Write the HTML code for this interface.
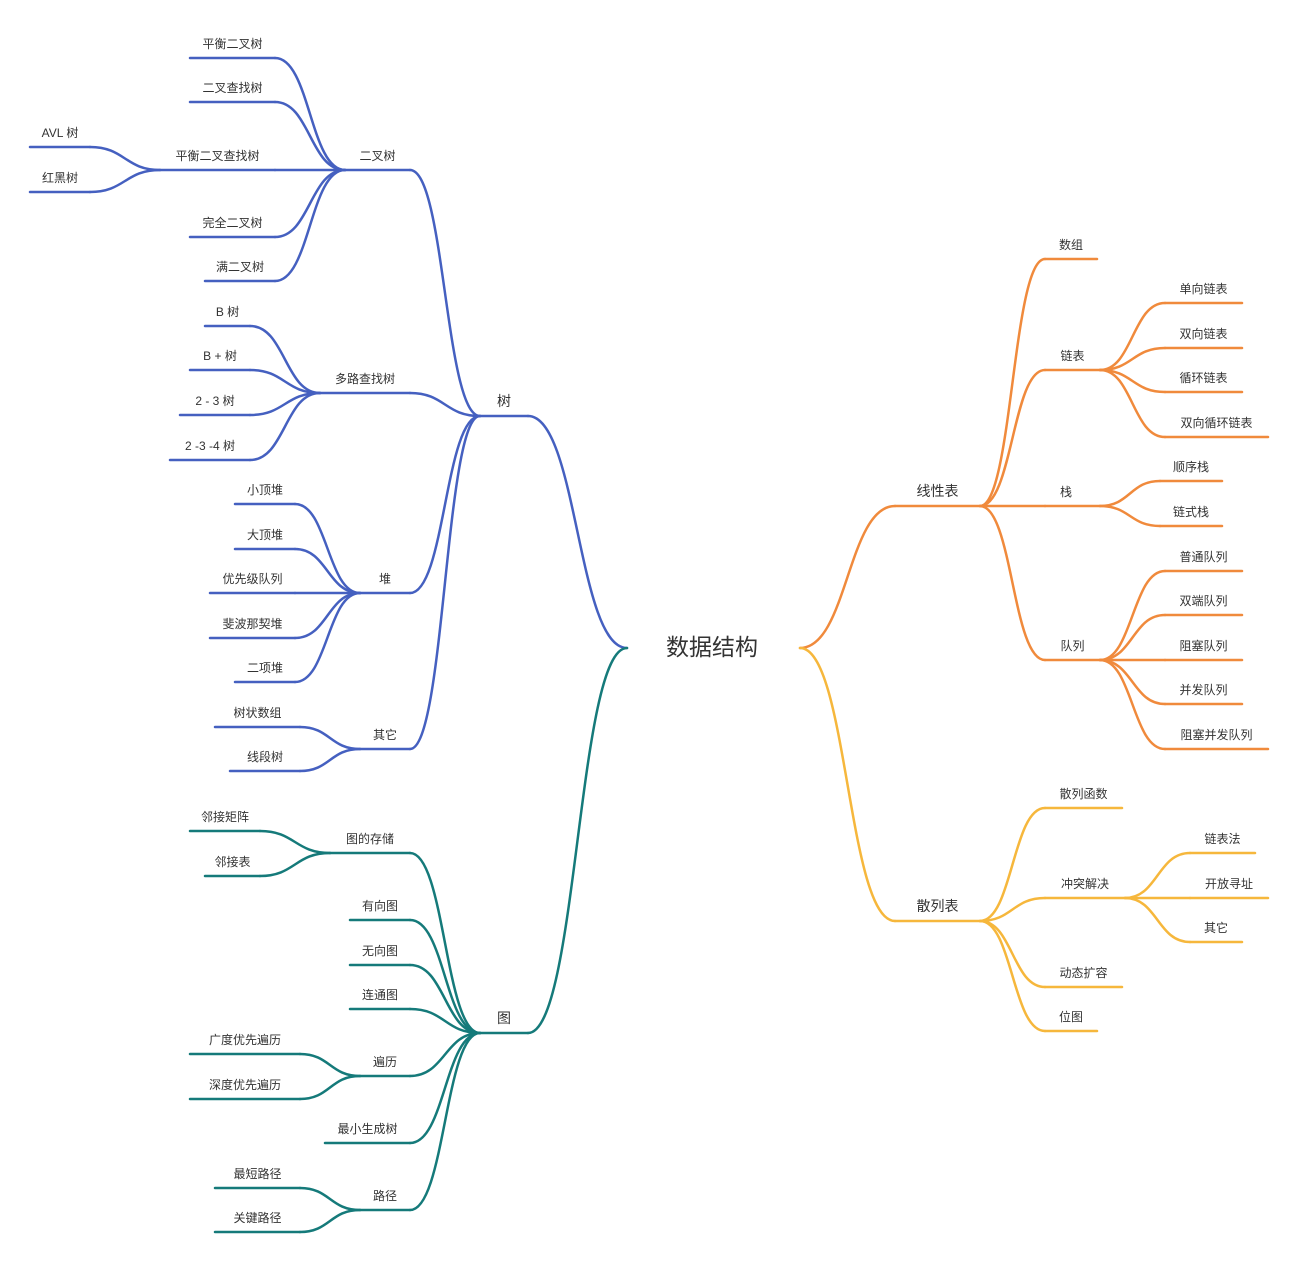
<!DOCTYPE html>
<html><head><meta charset="utf-8">
<style>
html,body{margin:0;padding:0;background:#fff;}
svg{display:block;}
text{font-family:"Liberation Sans","Noto Sans CJK SC",sans-serif;fill:#333;}
</style></head>
<body>
<svg id="s" width="1296" height="1264" viewBox="0 0 1296 1264" xmlns="http://www.w3.org/2000/svg">
<text x="712" y="655" font-size="23" text-anchor="middle">数据结构</text>
<text x="1066" y="496" font-size="12" text-anchor="middle">栈</text>
</svg>
<script>
const s=document.getElementById('s');
const NS='http://www.w3.org/2000/svg';
function path(d,c){const p=document.createElementNS(NS,'path');p.setAttribute('d',d);p.setAttribute('fill','none');p.setAttribute('stroke',c);p.setAttribute('stroke-width','2.5');p.setAttribute('stroke-linecap','round');s.appendChild(p);}
function txt(x,y,t,fs){if(!t)return;const e=document.createElementNS(NS,'text');e.setAttribute('x',x);e.setAttribute('y',y);e.setAttribute('text-anchor','middle');e.setAttribute('font-size',fs||12);e.textContent=t;s.insertBefore(e,s.firstChild);}
function curve(x1,y1,x2,y2,c){const m=(x1+x2)/2;path(`M${x1},${y1} C${m},${y1} ${m},${y2} ${x2},${y2}`,c);}
function node(t,x1,x2,y,c,fs){path(`M${x1},${y} L${x2},${y}`,c);txt((x1+x2)/2,y-10,t,fs);}
function L(parent,kids,c){const [px,py]=parent;kids.forEach(k=>{node(k[0],k[1],k[2],k[3],c);curve(px,py,k[2],k[3],c);});}
function R(parent,kids,c){const [px,py]=parent;kids.forEach(k=>{node(k[0],k[1],k[2],k[3],c);curve(px,py,k[1],k[3],c);});}
const B='#4560c0',T='#157a7a',O='#f08a3c',Y='#f6b73c';
node('树',480,528,416,B,14);curve(627,648,528,416,B);
node('图',480,528,1033,T,14);curve(627,648,528,1033,T);
node('线性表',895,980,506,O,14);curve(800,648,895,506,O);
node('散列表',895,980,921,Y,14);curve(800,648,895,921,Y);
L([480,416],[['二叉树',345,410,170],['多路查找树',320,410,393],['堆',360,410,593],['其它',360,410,749]],B);
L([345,170],[['平衡二叉树',190,275,58],['二叉查找树',190,275,102],['平衡二叉查找树',160,275,170],['完全二叉树',190,275,237],['满二叉树',205,275,281]],B);
L([160,170],[['AVL 树',30,90,147],['红黑树',30,90,192]],B);
L([320,393],[['B 树',205,250,326],['B + 树',190,250,370],['2 - 3 树',180,250,415],['2 -3 -4 树',170,250,460]],B);
L([360,593],[['小顶堆',235,295,504],['大顶堆',235,295,549],['优先级队列',210,295,593],['斐波那契堆',210,295,638],['二项堆',235,295,682]],B);
L([360,749],[['树状数组',215,300,727],['线段树',230,300,771]],B);
L([480,1033],[['图的存储',330,410,853],['有向图',350,410,920],['无向图',350,410,965],['连通图',350,410,1009],['遍历',360,410,1076],['最小生成树',325,410,1143],['路径',360,410,1210]],T);
L([330,853],[['邻接矩阵',190,260,831],['邻接表',205,260,876]],T);
L([360,1076],[['广度优先遍历',190,300,1054],['深度优先遍历',190,300,1099]],T);
L([360,1210],[['最短路径',215,300,1188],['关键路径',215,300,1232]],T);
R([980,506],[['数组',1045,1097,259],['链表',1045,1100,370],['',1045,1100,506],['队列',1045,1100,660]],O);
R([1100,370],[['单向链表',1165,1242,303],['双向链表',1165,1242,348],['循环链表',1165,1242,392],['双向循环链表',1165,1268,437]],O);
R([1100,506],[['顺序栈',1160,1222,481],['链式栈',1160,1222,526]],O);
R([1100,660],[['普通队列',1165,1242,571],['双端队列',1165,1242,615],['阻塞队列',1165,1242,660],['并发队列',1165,1242,704],['阻塞并发队列',1165,1268,749]],O);
R([980,921],[['散列函数',1045,1122,808],['冲突解决',1045,1125,898],['动态扩容',1045,1122,987],['位图',1045,1097,1031]],Y);
R([1125,898],[['链表法',1190,1255,853],['开放寻址',1190,1268,898],['其它',1190,1242,942]],Y);
</script>
</body></html>
